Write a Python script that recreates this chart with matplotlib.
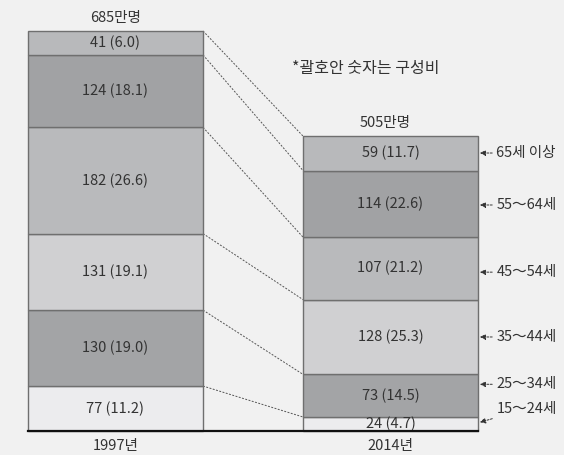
import matplotlib.pyplot as plt
import numpy as np

plt.rcParams['font.family'] = ['Noto Sans CJK KR', 'DejaVu Sans']

# data (만명, 구성비 %)
years = ['1997년', '2014년']
totals = ['685만명', '505만명']
age_groups = ['15～24세', '25～34세', '35～44세', '45～54세', '55～64세', '65세 이상']
v1997 = [77, 130, 131, 182, 124, 41]
p1997 = [11.2, 19.0, 19.1, 26.6, 18.1, 6.0]
v2014 = [24, 73, 128, 107, 114, 59]
p2014 = [4.7, 14.5, 25.3, 21.2, 22.6, 11.7]
# label heights on the right side (만명 scale)
label_pos = [38, 80, 161, 272, 387, 476]
arrow_pos = [15, 80, 161, 272, 387, 476]

colors = ['#ececee', '#a3a4a6', '#d0d0d2', '#b9babc', '#a1a2a4', '#b8b9bb']
bg = '#f1f1f1'
tc = '#333333'
fs = 10.5

fig = plt.figure(figsize=(5.64, 4.55), dpi=100, facecolor=bg)
ax = fig.add_axes([0, 0, 1, 1])
ax.set_facecolor(bg)

# y=0 at 431px, 0.584 px per 만명; bar centers at 115.5px and 390.5px
sy = 0.584
ax.set_ylim(-(455 - 431) / sy, 431 / sy)
sx = 275.0
ax.set_xlim(-115.5 / sx, (564 - 115.5) / sx)
w = 175 / sx

series = [(v1997, p1997), (v2014, p2014)]
tops = []
for i, (vals, pcts) in enumerate(series):
    bottoms = np.concatenate([[0], np.cumsum(vals)[:-1]])
    ax.bar([i] * len(vals), vals, bottom=bottoms, width=w, color=colors,
           edgecolor='#6f6f6f', linewidth=1.0, zorder=2)
    for v, p, b in zip(vals, pcts, bottoms):
        ax.text(i, b + v / 2, f'{v} ({p:.1f})', ha='center', va='center',
                fontsize=fs, color=tc, zorder=3)
    tops.append(np.cumsum(vals))
    ax.text(i - 0.02 * i, sum(vals) + 10, totals[i], ha='center', va='bottom', fontsize=fs, color=tc)
    ax.text(i, -13, years[i], ha='center', va='top', fontsize=fs, color=tc)

# dashed connectors between boundaries
for b1, b2 in zip(tops[0], tops[1]):
    ax.plot([w / 2, 1 - w / 2], [b1, b2], ls=(0, (2, 1.5)), color='#555555', lw=0.7, zorder=1)
ax.plot([-w / 2, 1 + w / 2], [0, 0], color='#111111', lw=1.6, zorder=4)

# right-side labels with arrows
for lab, ly, ay in zip(age_groups, label_pos, arrow_pos):
    ax.annotate(lab, xy=(1 + w / 2 + 0.007, ay), xytext=(1.385, ly),
                fontsize=fs, color=tc, va='center', ha='left',
                arrowprops=dict(arrowstyle='-|>', ls=(0, (2, 1.5)), lw=0.7, color='#333333',
                                mutation_scale=8, shrinkA=1, shrinkB=0))

ax.text(0.642, 620, '*괄호안 숫자는 구성비', ha='left', va='center', fontsize=11.5, color=tc)

ax.axis('off')
fig.savefig('out.png', dpi=100, facecolor=bg)
